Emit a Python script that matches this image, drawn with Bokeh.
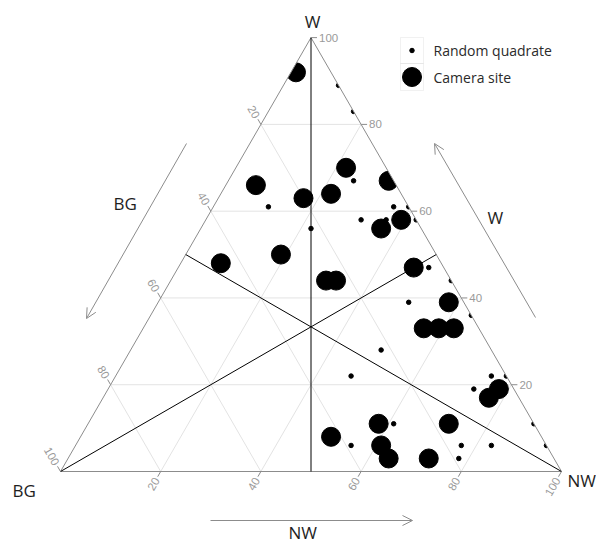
import numpy as np
from bokeh.plotting import figure
from bokeh.models import Range1d, Arrow, OpenHead, BoxAnnotation, ColumnDataSource
from bokeh.core.properties import value
from bokeh.embed import file_html
from bokeh.resources import INLINE

# ---------------- data (percent compositions) ----------------
camera_nw = [1, 22, 6, 22, 17, 32, 39, 36, 19, 8, 31, 33, 47, 58, 56, 59, 62, 78, 77, 72, 58, 50, 61, 64, 72]
camera_w = [92, 70, 66, 64, 63, 67, 58, 56, 50, 48, 44, 44, 47, 39, 33, 33, 33, 19, 17, 11, 11, 8, 6, 3, 3]
camera_bg = [7, 8, 28, 14, 20, 1, 3, 8, 31, 44, 25, 23, 6, 3, 11, 8, 5, 3, 6, 17, 31, 42, 33, 33, 25]

quad_nw = [11, 17, 25, 11, 36, 39, 31, 36, 42, 22, 50, 56, 50, 64, 50, 47, 75, 78, 73, 61, 89, 55, 77, 83, 94, 78]
quad_w = [89, 83, 67, 61, 61, 61, 58, 58, 58, 56, 47, 44, 39, 36, 28, 22, 22, 22, 19, 11, 11, 6, 6, 6, 6, 3]
quad_bg = [0, 0, 8, 28, 3, 0, 11, 6, 0, 22, 3, 0, 11, 0, 22, 31, 3, 0, 8, 28, 0, 39, 17, 11, 0, 19]

tick_values = [20, 40, 60, 80, 100]
grid_values = [20, 40, 60, 80]
series_labels = ["Random quadrate", "Camera site"]
series_sizes = [4.5, 19]
axis_titles = {"NW": "NW", "W": "W", "BG": "BG"}

# ---------------- geometry helpers ----------------
H = np.sqrt(3) / 2
PX = 501.0  # pixels per unit side
W_FIG, H_FIG = 596, 545


def tern(nw, w, bg=None):
    nw = np.asarray(nw, dtype=float)
    w = np.asarray(w, dtype=float)
    if bg is None:
        bg = 100.0 - nw - w
    bg = np.asarray(bg, dtype=float)
    s = nw + w + bg
    a, b = nw / s, w / s
    return a + b / 2, b * H


def pg(x, y):
    # pixel layout position -> plot units
    return (x - 60) / PX, (471 - y) / PX


p = figure(width=W_FIG, height=H_FIG,
           x_range=Range1d(-60 / PX, (W_FIG - 60) / PX),
           y_range=Range1d((471 - H_FIG) / PX, 471 / PX),
           output_backend="svg", toolbar_location=None, min_border=0,
           x_axis_type=None, y_axis_type=None, outline_line_color=None,
           background_fill_color="white")

# ---------------- grid ----------------
gxs, gys = [], []
for k in grid_values:
    for seg in (([0, 100 - k], [k, k]),          # constant W
                ([k, k], [0, 100 - k]),          # constant NW
                ([100 - k, 0], [0, 100 - k])):   # constant BG
        x, y = tern(seg[0], seg[1])
        gxs.append(list(x)); gys.append(list(y))
p.multi_line(gxs, gys, line_color="#e3e3e3", line_width=1)

# ---------------- points ----------------
qx, qy = tern(quad_nw, quad_w, quad_bg)
cx, cy = tern(camera_nw, camera_w, camera_bg)
p.scatter(qx, qy, size=series_sizes[0], color="black")
p.scatter(cx, cy, size=series_sizes[1], color="black")

# white mask to clip points to the triangle
tx, ty = tern([0, 100, 0], [0, 0, 100])
p.patches([[tx[0], tx[2], tx[2], -0.3, -0.3], [tx[1], tx[2], tx[2], 1.3, 1.3]],
          [[ty[0], ty[2], 1.2, 1.2, ty[0]], [ty[1], ty[2], 1.2, 1.2, ty[1]]],
          fill_color="white", line_color=None)

# ---------------- triangle edges ----------------
ex, ey = tern([0, 100, 0, 0], [0, 0, 100, 0])
p.line(list(ex), list(ey), line_color="#8c8c8c", line_width=1)

# ---------------- median lines ----------------
mxs, mys = [], []
for a, b in (((0, 50), (100, 0)), ((0, 50), (0, 50)), ((100, 0), (0, 50))):
    x, y = tern(a, b)
    mxs.append(list(x)); mys.append(list(y))
p.multi_line(mxs, mys, line_color="black", line_width=1)

# ---------------- ticks and tick labels ----------------
L = 6 / PX
OFF = 8 / PX
txs, tys, lx, ly, lt, la, lal = [], [], [], [], [], [], []
for k in tick_values:
    # bottom (NW)
    bx, by = tern(k, 0)
    d = (-0.5, -H)
    txs.append([float(bx), float(bx + L * d[0])]); tys.append([float(by), float(by + L * d[1])])
    lx.append(float(bx + OFF * d[0])); ly.append(float(by + OFF * d[1]))
    lt.append(str(k)); la.append(np.pi / 3); lal.append("right")
    # right (W)
    rx, ry = tern(100 - k, k)
    d = (1.0, 0.0)
    txs.append([float(rx), float(rx + L * d[0])]); tys.append([float(ry), float(ry)])
    lx.append(float(rx + OFF * d[0])); ly.append(float(ry))
    lt.append(str(k)); la.append(0.0); lal.append("left")
    # left (BG)
    qx0, qy0 = tern(0, 100 - k)
    d = (-0.5, H)
    txs.append([float(qx0), float(qx0 + L * d[0])]); tys.append([float(qy0), float(qy0 + L * d[1])])
    lx.append(float(qx0 + OFF * d[0])); ly.append(float(qy0 + OFF * d[1]))
    lt.append(str(k)); la.append(-np.pi / 3); lal.append("right")
p.multi_line(txs, tys, line_color="#8c8c8c", line_width=1)
src = ColumnDataSource(dict(x=lx, y=ly, text=lt, angle=la, align=lal))
p.text(x="x", y="y", text="text", angle="angle", text_align="align", source=src,
       text_baseline="middle", text_font=value("Liberation Sans"),
       text_font_size="11.5px", text_color="#9a9a9a")

# ---------------- axis titles ----------------
tpos = [pg(312, 21), pg(12, 490), pg(567, 480), pg(113, 203), pg(487, 217), pg(288, 532)]
titles = dict(x=[t[0] for t in tpos], y=[t[1] for t in tpos],
              text=[axis_titles["W"], axis_titles["BG"], axis_titles["NW"],
                    axis_titles["BG"], axis_titles["W"], axis_titles["NW"]],
              align=["center", "left", "left", "left", "left", "left"])
p.text(x="x", y="y", text="text", text_align="align", source=ColumnDataSource(titles),
       text_baseline="middle", text_font=value("Open Sans"), text_font_size="17px",
       text_color="#1e1e1e")

# ---------------- direction arrows ----------------
for (x0, y0), (x1, y1) in ((pg(186, 143), pg(86, 318)), (pg(535, 317), pg(434, 143)),
                           (pg(210, 520), pg(412, 520))):
    p.add_layout(Arrow(end=OpenHead(size=10, line_color="#8c8c8c", line_width=1),
                       x_start=x0, y_start=y0, x_end=x1, y_end=y1,
                       line_color="#8c8c8c", line_width=1))

# ---------------- legend (keys in boxes, as in the reference) ----------------
key_centers = [pg(411.5, 50), pg(411.5, 76.5)]
p.scatter([c[0] for c in key_centers], [c[1] for c in key_centers],
          size=series_sizes, color="black")
lab_pos = [pg(433, 50), pg(433, 76.5)]
p.text(x=[c[0] for c in lab_pos], y=[c[1] for c in lab_pos], text=series_labels,
       text_align="left", text_baseline="middle", text_font=value("Open Sans"),
       text_font_size="14px", text_color="#2a2a2a")
for top, bot in ((37, 63), (63, 90)):
    l_, t_ = pg(400, top)
    r_, b_ = pg(423, bot)
    p.add_layout(BoxAnnotation(left=l_, right=r_, top=t_, bottom=b_, fill_alpha=0,
                               line_color="#d0d0d0", line_width=1))

open("out.html", "w").write(file_html(p, INLINE))
